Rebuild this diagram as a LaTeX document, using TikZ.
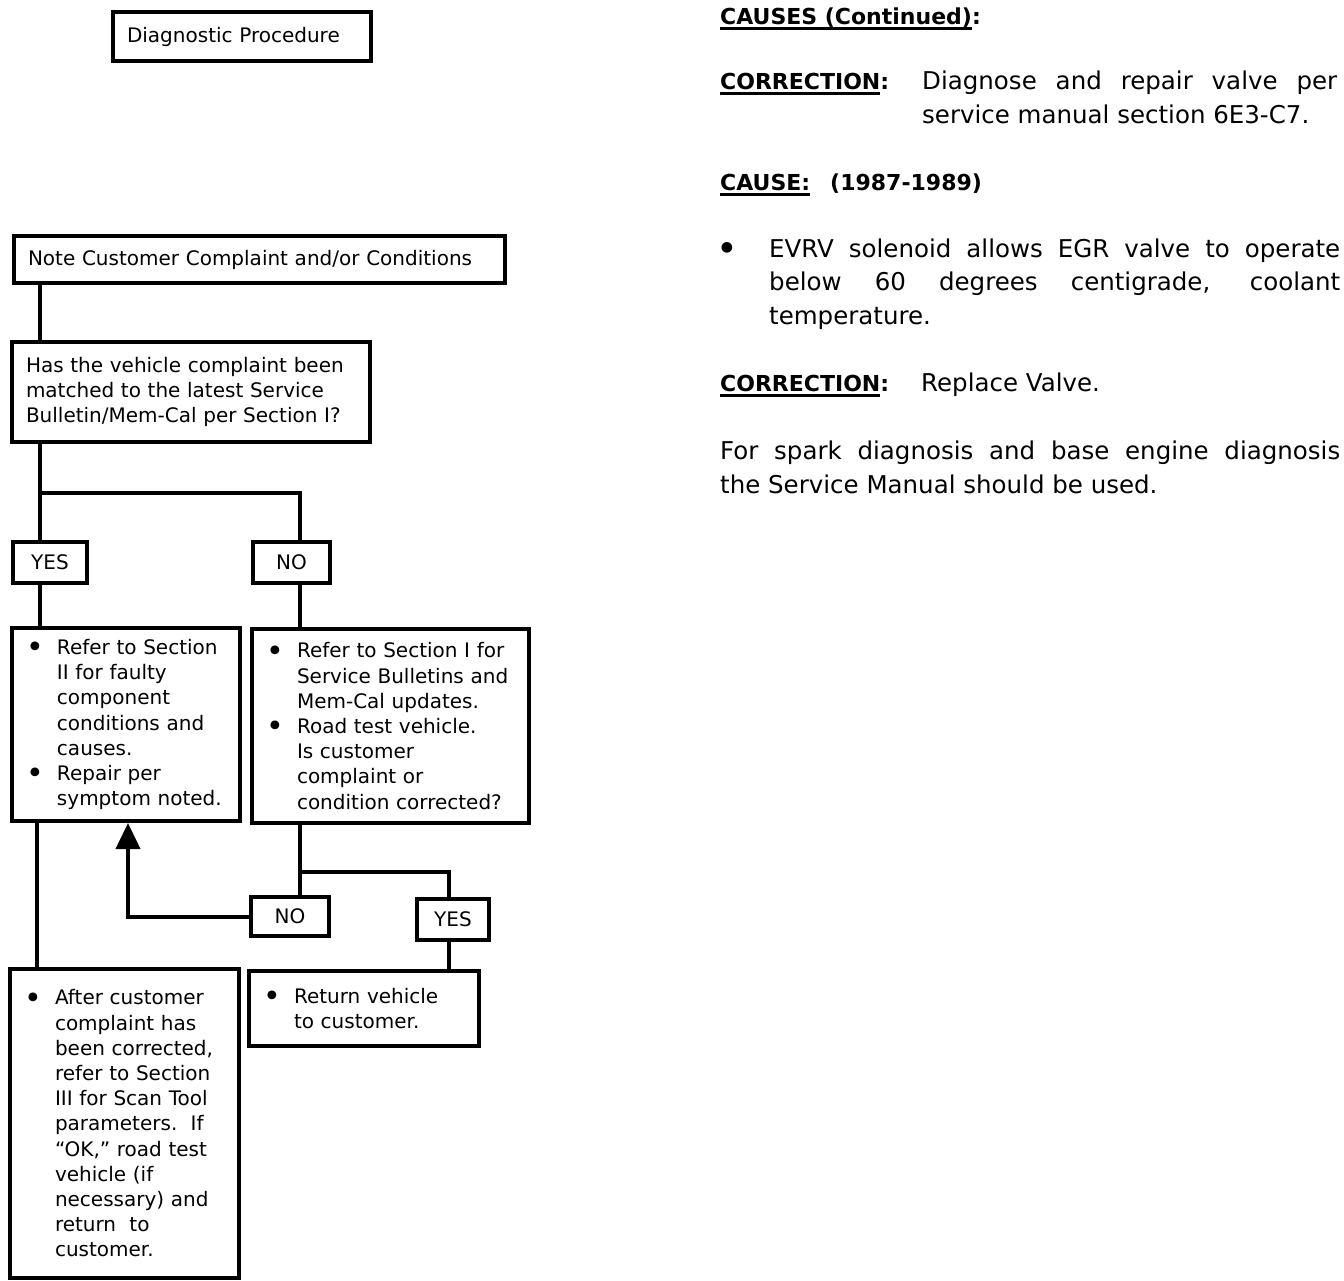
\documentclass[tikz,border=0pt]{standalone}
\usepackage{fontspec}
\setmainfont{DejaVu Sans}
\usetikzlibrary{arrows.meta}

\newcommand{\boxfont}{\fontsize{20}{25.2}\selectfont}
\newcommand{\pagefont}{\fontsize{24.5}{34}\selectfont}
\newcommand{\headfont}{\fontsize{22}{34}\selectfont\bfseries}
\newcommand{\bigdot}{\raisebox{-0.17em}{\scalebox{1.5}{\textbullet}}}
\newcommand{\dotitem}{\makebox[31pt][l]{\bigdot}}
\newcommand{\hang}{\hspace*{31pt}}
\newcommand{\thickul}[1]{\leavevmode\setbox0=\hbox{#1}\rlap{\rule[-5.5pt]{\wd0}{2.5pt}}\box0}

\begin{document}
\begin{tikzpicture}[x=1pt, y=-1pt,
		panel/.style={draw, line width=4pt, anchor=north west, inner xsep=14pt, inner ysep=0pt, align=left, font=\boxfont},
		answer/.style={draw, line width=4pt, anchor=north west, inner sep=0pt, font=\boxfont},
		link/.style={line width=4pt},
		textline/.style={anchor=base west, inner sep=0pt, font=\pagefont}]
		\useasboundingbox (0, 0) rectangle (1344, 1280);

		\node[panel, text width=230pt, minimum width=258pt, minimum height=49pt] (title) at (111, 10) {Diagnostic Procedure};
		\node[panel, text width=463pt, minimum width=491pt, minimum height=47pt] (note) at (12, 234) {Note Customer Complaint and/or Conditions};
		\node[panel, text width=330pt, minimum width=358pt, minimum height=100pt] (question) at (10, 340)
			{Has the vehicle complaint been\\matched to the latest Service\\Bulletin/Mem-Cal per Section I?};
		\node[answer, minimum width=74pt, minimum height=41pt] (yes1) at (11, 540) {YES};
		\node[answer, minimum width=77pt, minimum height=41pt] (no1) at (251, 540) {NO};
		\node[panel, text width=200pt, minimum width=228pt, minimum height=193pt] (refer) at (10, 626)
			{\dotitem Refer to Section\\ \hang II for faulty\\ \hang component\\ \hang conditions and\\ \hang causes.\\
			\dotitem Repair per\\ \hang symptom noted.};
		\node[panel, text width=249pt, minimum width=277pt, minimum height=194pt] (roadtest) at (250, 627)
			{\dotitem Refer to Section I for\\ \hang Service Bulletins and\\ \hang Mem-Cal updates.\\
			\dotitem Road test vehicle.\\ \hang Is customer\\ \hang complaint or\\ \hang condition corrected?};
		\node[answer, minimum width=78pt, minimum height=39pt] (no2) at (249, 895) {NO};
		\node[answer, minimum width=72pt, minimum height=41pt] (yes2) at (415, 897) {YES};
		\node[panel, text width=201pt, minimum width=229pt, minimum height=309pt] (after) at (8, 967)
			{\dotitem After customer\\ \hang complaint has\\ \hang been corrected,\\ \hang refer to Section\\
			\hang III for Scan Tool\\ \hang parameters.\ \ If\\ \hang “OK,” road test\\ \hang vehicle (if\\
			\hang necessary) and\\ \hang return\ \ to\\ \hang customer.};
		\node[panel, text width=202pt, minimum width=230pt, minimum height=75pt] (return) at (247, 969)
			{\dotitem Return vehicle\\ \hang to customer.};

		\coordinate (colA) at (40, 0);
		\coordinate (colB) at (300, 0);
		\coordinate (colC) at (449, 0);
		\coordinate (colD) at (37, 0);
		\coordinate (colE) at (128, 0);
		\coordinate (fork1) at (40, 493);
		\coordinate (fork2) at (300, 872);

		\draw[link] (colA |- note.south) -- (colA |- question.north);
		\draw[link] (colA |- question.south) -- (colA |- yes1.north);
		\draw[link] (fork1) -| (colB |- no1.north);
		\draw[link] (colA |- yes1.south) -- (colA |- refer.north);
		\draw[link] (colB |- no1.south) -- (colB |- roadtest.north);
		\draw[link] (colB |- roadtest.south) -- (colB |- no2.north);
		\draw[link] (fork2) -| (colC |- yes2.north);
		\draw[link] (colC |- yes2.south) -- (colC |- return.north);
		\draw[link] (colD |- refer.south) -- (colD |- after.north);
		\draw[link, -{Triangle[length=26pt, width=24pt]}] (no2.west) -| (colE |- refer.south);

		\node[textline] (causes) at (720, 24) {\headfont\thickul{CAUSES (Continued)}:};
		\node[textline] (corr1) at (720, 89) {\headfont\thickul{CORRECTION}:};
		\node[textline] (diag1) at (922, 89) {\makebox[415pt][s]{Diagnose and repair valve per}};
		\node[textline] (diag2) at (922, 123) {service manual section 6E3-C7.};
		\node[textline] (cause) at (720, 190) {\headfont\thickul{CAUSE:}};
		\node[textline] (years) at (830, 190) {\headfont (1987-1989)};
		\node[textline] (dot) at (716, 257) {\bigdot};
		\node[textline] (evrv1) at (769, 257) {\makebox[571pt][s]{EVRV solenoid allows EGR valve to operate}};
		\node[textline] (evrv2) at (769, 290) {\makebox[571pt][s]{below 60 degrees centigrade, coolant}};
		\node[textline] (evrv3) at (769, 324) {temperature.};
		\node[textline] (corr2) at (720, 391) {\headfont\thickul{CORRECTION}:};
		\node[textline] (valve) at (921, 391) {Replace Valve.};
		\node[textline] (spark1) at (720, 459) {\makebox[620pt][s]{For spark diagnosis and base engine diagnosis}};
		\node[textline] (spark2) at (720, 493) {the Service Manual should be used.};
\end{tikzpicture}
\end{document}
